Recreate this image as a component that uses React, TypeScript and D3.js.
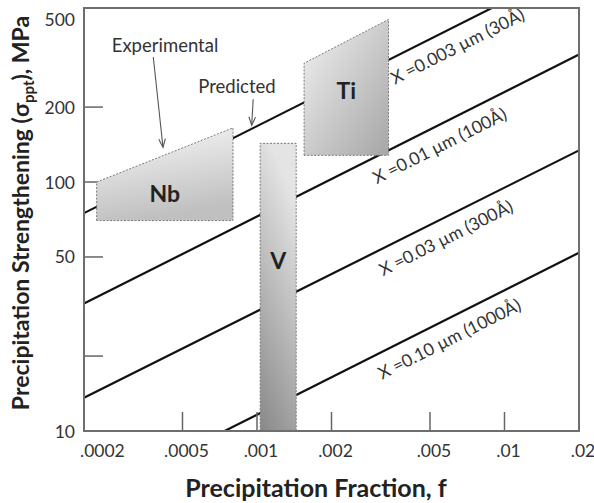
import React from "react";
import * as d3 from "d3";

const W = 594;
const H = 503;
const plot = { left: 84, right: 579, top: 8, bottom: 431 };

// Axes
const fDomain = [0.0002, 0.02];
const sDomain = [10, 500];
const xTickValues = [0.0002, 0.0005, 0.001, 0.002, 0.005, 0.01, 0.02];
const xTickLabels = [".0002", ".0005", ".001", ".002", ".005", ".01", ".02"];
const yTickValues = [10, 20, 50, 100, 200, 500];
const yTickLabels = ["10", "", "50", "100", "200", "500"];

// Predicted strengthening lines (MPa at f = .0002 and f = .02)
const lineNames = [
  "X =0.003 µm (30Å)",
  "X =0.01 µm (100Å)",
  "X =0.03 µm (300Å)",
  "X =0.10 µm (1000Å)",
];
const lineFractions = [0.0002, 0.02];
const lineStrengthLow = [75, 32.5, 13.6, 5.2];
const lineStrengthHigh = [750, 325, 134, 52];
const lineLabelF = [0.0036, 0.00305, 0.00323, 0.0032];

// Experimental ranges for each microalloy
const regionNames = ["Nb", "V", "Ti"];
const regionFMin = [0.000225, 0.00103, 0.00155];
const regionFMax = [0.0008, 0.00144, 0.0034];
const regionBottom = [70, 10, 128];
const regionTopLeft = [100, 143, 300];
const regionTopRight = [165, 143, 450];
const regionLabelS = [90, 48.5, 234];

// Callouts
const noteTexts = ["Experimental", "Predicted"];
const noteTextF = [0.000425, 0.00083];
const noteTextS = [355, 243];
const noteFromF = [0.000381, 0.000965];
const noteFromS = [318, 215];
const noteTipF = [0.000417, 0.000952];
const noteTipS = [138, 169];

const FONT = "Lato, 'Open Sans', sans-serif";

export default function App() {
  const x = d3.scaleLog().domain(fDomain).range([plot.left, plot.right]);
  const y = d3.scaleLog().domain(sDomain).range([plot.bottom, plot.top]);
  const line = d3
    .line<[number, number]>()
    .x((d) => x(d[0]))
    .y((d) => y(d[1]));

  const grads = [
    { id: "g-Nb", x1: 0, y1: 0, x2: 0.25, y2: 1, a: "#f8f8f8", b: "#c0c0c0" },
    { id: "g-V", x1: 0.3, y1: 0, x2: 0, y2: 1, a: "#e4e4e4", b: "#888888" },
    { id: "g-Ti", x1: 0, y1: 0, x2: 1, y2: 1, a: "#f2f2f2", b: "#a6a6a6" },
  ];

  return (
    <svg width={W} height={H} style={{ position: "absolute", left: 0, top: 0 }}>
      <defs>
        <clipPath id="plot-clip">
          <rect x={plot.left} y={plot.top} width={plot.right - plot.left} height={plot.bottom - plot.top} />
        </clipPath>
        {grads.map((g) => (
          <linearGradient key={g.id} id={g.id} x1={g.x1} y1={g.y1} x2={g.x2} y2={g.y2}>
            <stop offset="0" stopColor={g.a} />
            <stop offset="1" stopColor={g.b} />
          </linearGradient>
        ))}
      </defs>
      <rect width={W} height={H} fill="#fff" />

      {/* predicted lines */}
      <g clipPath="url(#plot-clip)">
        {lineNames.map((n, i) => (
          <path
            key={n}
            d={line([
              [lineFractions[0], lineStrengthLow[i]],
              [lineFractions[1], lineStrengthHigh[i]],
            ]) as string}
            fill="none"
            stroke="#111"
            strokeWidth={2.2}
          />
        ))}
      </g>

      {/* line labels, set parallel to each line */}
      {lineNames.map((n, i) => {
        const x0 = x(lineFractions[0]);
        const x1 = x(lineFractions[1]);
        const y0 = y(lineStrengthLow[i]);
        const y1 = y(lineStrengthHigh[i]);
        const ang = (Math.atan2(y1 - y0, x1 - x0) * 180) / Math.PI;
        const t = (x(lineLabelF[i]) - x0) / (x1 - x0);
        const px = x0 + t * (x1 - x0);
        const py = y0 + t * (y1 - y0) + 28;
        return (
          <text
            key={n}
            transform={`translate(${px},${py}) rotate(${ang})`}
            fontFamily={FONT}
            fontSize={17.5}
            fill="#333"
          >
            {n}
          </text>
        );
      })}

      {/* inward tick marks */}
      {xTickValues.slice(1, -1).map((v) => (
        <line key={v} x1={x(v)} x2={x(v)} y1={plot.bottom} y2={plot.bottom - 19} stroke="#666" strokeWidth={1.5} />
      ))}
      {yTickValues.slice(1, -1).map((v) => (
        <line key={v} x1={plot.left} x2={plot.left + 19} y1={y(v)} y2={y(v)} stroke="#666" strokeWidth={1.5} />
      ))}

      {/* experimental regions */}
      {regionNames.map((n, i) => {
        const pts: [number, number][] = [
          [regionFMin[i], regionBottom[i]],
          [regionFMin[i], regionTopLeft[i]],
          [regionFMax[i], regionTopRight[i]],
          [regionFMax[i], regionBottom[i]],
        ];
        return (
          <g key={n}>
            <path
              d={(line(pts) as string) + "Z"}
              fill={`url(#g-${n})`}
              stroke="#7a7a7a"
              strokeWidth={1}
              strokeDasharray="2 1.5"
            />
            <text
              x={(x(regionFMin[i]) + x(regionFMax[i])) / 2}
              y={y(regionLabelS[i])}
              textAnchor="middle"
              dominantBaseline="central"
              fontFamily={FONT}
              fontWeight={700}
              fontSize={23}
              fill="#222"
            >
              {n}
            </text>
          </g>
        );
      })}

      {/* callouts */}
      {noteTexts.map((n, i) => {
        const fx = x(noteFromF[i]);
        const fy = y(noteFromS[i]);
        const tx = x(noteTipF[i]);
        const ty = y(noteTipS[i]);
        const a = Math.atan2(ty - fy, tx - fx);
        const h = 9;
        const spread = 0.38;
        return (
          <g key={n}>
            <text
              x={x(noteTextF[i])}
              y={y(noteTextS[i])}
              textAnchor="middle"
              dominantBaseline="central"
              fontFamily={FONT}
              fontSize={18.5}
              fill="#333"
            >
              {n}
            </text>
            <line x1={fx} y1={fy} x2={tx} y2={ty} stroke="#555" strokeWidth={1.1} />
            <path
              d={`M${tx - h * Math.cos(a - spread)},${ty - h * Math.sin(a - spread)}L${tx},${ty}L${tx - h * Math.cos(a + spread)},${ty - h * Math.sin(a + spread)}`}
              fill="none"
              stroke="#555"
              strokeWidth={1.1}
            />
          </g>
        );
      })}

      {/* frame */}
      <rect
        x={plot.left}
        y={plot.top}
        width={plot.right - plot.left}
        height={plot.bottom - plot.top}
        fill="none"
        stroke="#6e6e6e"
        strokeWidth={2}
      />

      {/* tick labels */}
      {xTickValues.map((v, i) => (
        <text
          key={v}
          x={i === 0 ? plot.left - 4 : x(v) + 4}
          y={457}
          textAnchor={i === 0 ? "start" : "middle"}
          fontFamily={FONT}
          fontSize={17.5}
          fill="#333"
        >
          {xTickLabels[i]}
        </text>
      ))}
      {yTickValues.map((v, i) =>
        yTickLabels[i] ? (
          <text
            key={v}
            x={75}
            y={Math.max(y(v), 19)}
            textAnchor="end"
            dominantBaseline="central"
            fontFamily={FONT}
            fontSize={17.5}
            fill="#333"
          >
            {yTickLabels[i]}
          </text>
        ) : null
      )}

      {/* axis titles */}
      <text
        x={316}
        y={497}
        textAnchor="middle"
        fontFamily={FONT}
        fontWeight={700}
        fontSize={25}
        fill="#222"
      >
        Precipitation Fraction, f
      </text>
      <text
        transform={`translate(29,213) rotate(-90)`}
        textAnchor="middle"
        fontFamily={FONT}
        fontWeight={700}
        fontSize={23}
        fill="#222"
      >
        Precipitation Strengthening (σ
        <tspan fontSize={15} dy={5}>ppt</tspan>
        <tspan dy={-5}>), MPa</tspan>
      </text>
    </svg>
  );
}
